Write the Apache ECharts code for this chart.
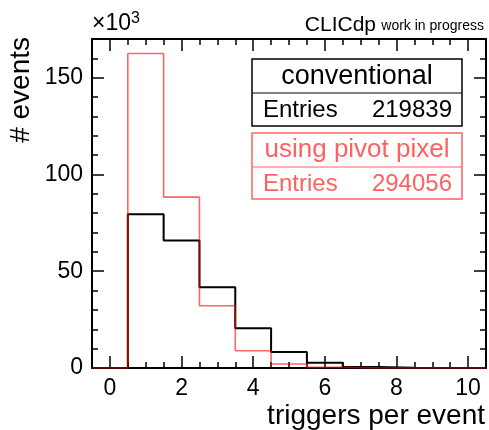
<!DOCTYPE html>
<html>
<head>
<meta charset="utf-8">
<script src="https://cdn.jsdelivr.net/npm/echarts@6/dist/echarts.min.js"></script>
</head>
<body style="margin:0">
<div id="main" style="width:489px;height:430px"></div>
<script>
// bin centres (triggers per event), counts in units of 10^3
const binCenters = [0, 1, 2, 3, 4, 5, 6, 7, 8, 9, 10];
const conventional = [0, 79.5, 65.9, 41.7, 20.5, 8.3, 2.7, 0.5, 0.15, 0.05, 0];
const pivotPixel = [0, 162.5, 88.3, 32.2, 8.9, 2.1, 0.3, 0.05, 0, 0, 0];

const xMajor = [0, 2, 4, 6, 8, 10];
const xMinor = [0.5, 1, 1.5, 2.5, 3, 3.5, 4.5, 5, 5.5, 6.5, 7, 7.5, 8.5, 9, 9.5];
const yMajor = [0, 50, 100, 150];
const yMinor = [10, 20, 30, 40, 60, 70, 80, 90, 110, 120, 130, 140, 160];

const entriesConv = 219839;
const entriesPivot = 294056;

const FONT = 'Liberation Sans';
const RED = 'rgba(255,0,0,0.6)';
const RED_TXT = '#ff6161';

// histogram outline: point at left edge of each bin, closing point at last right edge
function stepData(vals) {
    const pts = binCenters.map((c, i) => [c - 0.5, vals[i]]);
    pts.push([binCenters[binCenters.length - 1] + 0.5, vals[vals.length - 1]]);
    return pts;
}

function xAx(pos, ticks, len, labels, line) {
    return { type: 'value', position: pos, min: -0.5, max: 10.5,
        axisLine: { show: line, onZero: false, lineStyle: { color: '#000', width: 2 } },
        axisTick: { show: true, inside: true, length: len, customValues: ticks, lineStyle: { color: '#000', width: 1.5 } },
        axisLabel: labels ? { customValues: ticks, fontFamily: FONT, fontSize: 23, color: '#000', margin: 9 } : { show: false },
        splitLine: { show: false } };
}
function yAx(pos, ticks, len, labels, line) {
    return { type: 'value', position: pos, min: 0, max: 170,
        axisLine: { show: line, onZero: false, lineStyle: { color: '#000', width: 2 } },
        axisTick: { show: true, inside: true, length: len, customValues: ticks, lineStyle: { color: '#000', width: 1.5 } },
        axisLabel: labels ? { customValues: ticks, fontFamily: FONT, fontSize: 23, color: '#000', margin: 9 } : { show: false },
        splitLine: { show: false } };
}

function txt(x, y, text, size, color, align, extra) {
    return Object.assign({ type: 'text', x: x, y: y,
        style: { text: text, font: size + 'px "Liberation Sans"', fill: color, align: align, verticalAlign: 'middle' } }, extra || {});
}

const option = {
    animation: false,
    backgroundColor: '#fff',
    grid: { left: 92, top: 39, right: 3, bottom: 62 },
    xAxis: [xAx('bottom', xMajor, 12, true, true), xAx('bottom', xMinor, 6, false, false),
            xAx('top', xMajor, 12, false, true), xAx('top', xMinor, 6, false, false)],
    yAxis: [yAx('left', yMajor, 12, true, true), yAx('left', yMinor, 6, false, false),
            yAx('right', yMajor, 12, false, true), yAx('right', yMinor, 6, false, false)],
    series: [
        { name: 'conventional', type: 'line', step: 'end', showSymbol: false,
          lineStyle: { color: '#000', width: 2 }, data: stepData(conventional) },
        { name: 'using pivot pixel', type: 'line', step: 'end', showSymbol: false,
          lineStyle: { color: RED, width: 1.6 }, data: stepData(pivotPixel) }
    ],
    graphic: [
        // stat boxes
        { type: 'rect', shape: { x: 252, y: 59, width: 210, height: 67 }, style: { fill: '#fff', stroke: '#000', lineWidth: 1.5 } },
        { type: 'line', shape: { x1: 252, y1: 93, x2: 462, y2: 93 }, style: { stroke: '#000', lineWidth: 1 } },
        txt(357, 77, 'conventional', 27, '#000', 'center'),
        txt(263, 110, 'Entries', 24, '#000', 'left'),
        txt(452, 110, String(entriesConv), 24, '#000', 'right'),
        { type: 'rect', shape: { x: 252, y: 133, width: 210, height: 66 }, style: { fill: '#fff', stroke: RED_TXT, lineWidth: 1.5 } },
        { type: 'line', shape: { x1: 252, y1: 167, x2: 462, y2: 167 }, style: { stroke: RED_TXT, lineWidth: 1 } },
        txt(357, 150, 'using pivot pixel', 26, RED_TXT, 'center'),
        txt(263, 184, 'Entries', 24, RED_TXT, 'left'),
        txt(452, 184, String(entriesPivot), 24, RED_TXT, 'right'),

        // labels
        { type: 'text', x: 92, y: 37, style: { text: '×10{sup|3}', font: '23px "Liberation Sans"', fill: '#000',
          align: 'left', verticalAlign: 'bottom',
          rich: { sup: { fontFamily: FONT, fontSize: 16, verticalAlign: 'top', padding: [0, 0, 10, 0] } } } },
        txt(376, 25, 'CLICdp', 21, '#000', 'right'),
        txt(484, 26, 'work in progress', 14, '#000', 'right'),
        txt(485, 416, 'triggers per event', 28, '#000', 'right'),
        txt(21, 37, '# events', 28, '#000', 'right', { rotation: Math.PI / 2 })
    ]
};

echarts.init(document.getElementById('main')).setOption(option);
</script>
</body>
</html>
